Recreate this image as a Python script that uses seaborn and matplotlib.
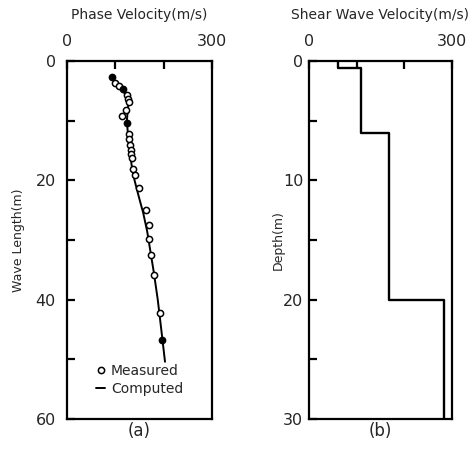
import matplotlib
matplotlib.use('Agg')
import matplotlib.pyplot as plt
from matplotlib.lines import Line2D
import seaborn as sns
import numpy as np
import pandas as pd

# (a) phase velocity dispersion data
meas_vel = [93.8, 99, 108, 115, 123.5, 127, 129, 122, 114.5, 124.8, 128.3, 129,
            130.3, 131.7, 132.4, 133.8, 137.2, 141.3, 148.2, 162.7, 168.9, 170.3,
            173.5, 180.7, 192.4, 196.6]
meas_wl = [2.7, 3.6, 4.2, 4.7, 5.6, 6.4, 6.9, 8.2, 9.2, 10.4, 12.2, 13.1,
           14.1, 14.9, 15.6, 16.3, 18.0, 19.1, 21.3, 24.9, 27.4, 29.8,
           32.5, 35.8, 42.2, 46.8]
meas_filled = [1, 0, 0, 1, 0, 0, 0, 0, 0, 1, 0, 0,
               0, 0, 0, 0, 0, 0, 0, 0, 0, 0,
               0, 0, 0, 1]

comp_vel = [92, 100, 110, 118, 125, 127, 124, 126, 130, 134, 140, 148, 158,
            166, 172, 180, 188, 196, 203]
comp_wl = [2.5, 3.4, 4.3, 5.2, 6.3, 7.2, 10.0, 12.0, 15.0, 17.5, 20.0, 22.5,
           25.5, 28.5, 31.5, 35.5, 40.0, 45.5, 50.4]

# (b) shear wave velocity profile (layers)
layer_vs = [60, 110, 168, 283]
layer_top = [0, 0.6, 6, 20]
layer_bot = [0.6, 6, 20, 30]

sns.set_style('ticks')
plt.rcParams['font.family'] = ['DejaVu Sans']

fig = plt.figure(figsize=(4.75, 4.49), dpi=100)
ax1 = fig.add_axes([0.141, 0.0668, 0.305, 0.797])
ax2 = fig.add_axes([0.6505, 0.0668, 0.301, 0.797])

meas = pd.DataFrame({'v': meas_vel, 'wl': meas_wl, 'f': meas_filled})
comp = pd.DataFrame({'v': comp_vel, 'wl': comp_wl})

sns.lineplot(data=comp, x='v', y='wl', sort=False, estimator=None,
             color='black', lw=1.4, ax=ax1)
sns.scatterplot(data=meas[meas.f == 0], x='v', y='wl', marker='o', s=20,
                facecolor='white', edgecolor='black', linewidth=1.1, ax=ax1,
                zorder=3)
sns.scatterplot(data=meas[meas.f == 1], x='v', y='wl', marker='o', s=20,
                color='black', edgecolor='black', linewidth=1.1, ax=ax1,
                zorder=3)

# step profile
sv = np.repeat(layer_vs, 2)
sd = np.ravel(np.column_stack([layer_top, layer_bot]))
prof = pd.DataFrame({'v': sv, 'd': sd})
sns.lineplot(data=prof, x='v', y='d', sort=False, estimator=None,
             color='black', lw=1.7, ax=ax2)

for ax, ymax, yticks, ylabs, ttl, ylab, xl in [
        (ax1, 60, np.arange(0, 61, 10), ['0', '', '20', '', '40', '', '60'],
         'Phase Velocity(m/s)', 'Wave Length(m)', '(a)'),
        (ax2, 30, np.arange(0, 31, 5), ['0', '', '10', '', '20', '', '30'],
         'Shear Wave Velocity(m/s)', 'Depth(m)', '(b)')]:
    ax.set_xlim(0, 300)
    ax.set_ylim(ymax, 0)
    ax.xaxis.tick_top()
    ax.set_xticks([0, 100, 200, 300])
    ax.set_xticklabels(['0', '', '', '300'])
    ax.set_yticks(yticks)
    ax.set_yticklabels(ylabs)
    ax.tick_params(direction='in', length=6, width=1.6, labelsize=11.5,
                   pad=8, color='black')
    ax.tick_params(axis='x', pad=9)
    for sp in ax.spines.values():
        sp.set_visible(True)
        sp.set_linewidth(1.6)
        sp.set_color('black')
    ax.set_title(ttl, fontsize=10, pad=30)
    ax.xaxis.set_label_position('bottom')
    ax.set_xlabel(xl, fontsize=12, labelpad=2)

ax1.set_ylabel('Wave Length(m)', fontsize=9, labelpad=8)
ax2.set_ylabel('Depth(m)', fontsize=9, labelpad=-1)
ax2.tick_params(axis='y', pad=4)

handles = [Line2D([], [], marker='o', ls='none', mfc='white', mec='black',
                  ms=4.5, mew=1.1),
           Line2D([], [], color='black', lw=1.4)]
ax1.legend(handles, ['Measured', 'Computed'], loc='lower center',
           bbox_to_anchor=(0.5, 0.03), frameon=False, fontsize=10,
           handlelength=0.7, handletextpad=0.4, labelspacing=0.3)

fig.savefig('out.png', dpi=100)
